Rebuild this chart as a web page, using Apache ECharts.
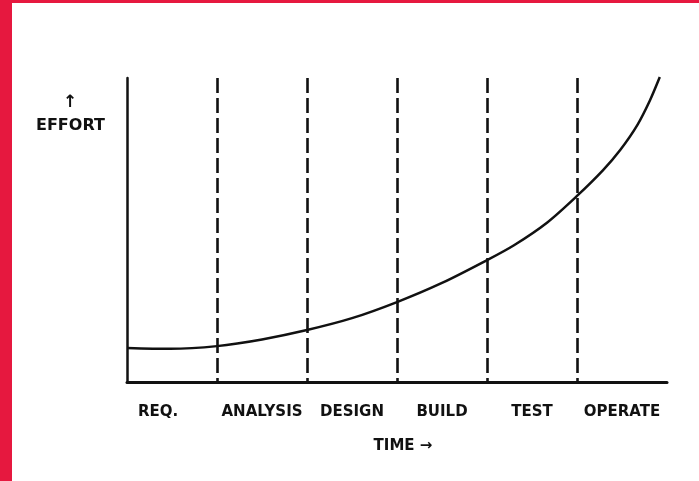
<!DOCTYPE html>
<html>
<head>
<meta charset="utf-8">
<script src="https://cdn.jsdelivr.net/npm/echarts@6/dist/echarts.min.js"></script>
<style>
html,body{margin:0;padding:0;background:#fff;}
#c{position:absolute;left:0;top:0;width:699px;height:481px;}
.bar{position:absolute;background:#E6183F;}
</style>
</head>
<body>
<div id="c"></div>
<div class="bar" style="left:0;top:0;width:699px;height:3px;"></div>
<div class="bar" style="left:0;top:0;width:12px;height:481px;"></div>
<script>
// Phases along the time axis
const phases = ['REQ.', 'ANALYSIS', 'DESIGN', 'BUILD', 'TEST', 'OPERATE'];
// Effort curve: time position (in phases) and effort value (0-100)
const curveTime   = [0, 0.48, 1.0, 1.5, 2.0, 2.5, 3.0, 3.5, 4.0, 4.3, 4.67, 5.0, 5.29, 5.48, 5.67, 5.81, 5.92];
const curveEffort = [11.2, 10.9, 11.8, 14, 17.1, 21, 26.3, 32.6, 40.1, 45.0, 52.5, 61.2, 69.7, 76.3, 84.5, 92.6, 100.3];

const chart = echarts.init(document.getElementById('c'));
const font = 'DejaVu Sans';
chart.setOption({
  animation: false,
  backgroundColor: '#fff',
  grid: { left: 127, right: 32, top: 78, bottom: 99 },
  xAxis: [
    {
      type: 'value', min: 0, max: phases.length, interval: 1,
      axisLine: { show: true, lineStyle: { color: '#111', width: 3 } },
      axisTick: { show: false }, axisLabel: { show: false },
      splitLine: { show: true, showMinLine: false, showMaxLine: false,
        lineStyle: { color: '#111', width: 2.6, type: [15, 5] } }
    },
    {
      type: 'category', data: phases, boundaryGap: true, position: 'bottom',
      axisLine: { show: false }, axisTick: { show: false }, splitLine: { show: false },
      axisLabel: {
        interval: 0, hideOverlap: false,
        margin: 23, color: '#111', fontFamily: font, fontWeight: 'bold', fontSize: 15,
        formatter: function (v) { return v === 'REQ.' ? '{r|' + v + '}' : v; },
        rich: { r: { padding: [0, 28, 0, 0], color: '#111', fontFamily: font, fontWeight: 'bold', fontSize: 15 } }
      },
      name: 'TIME →', nameLocation: 'middle', nameGap: 57,
      nameTextStyle: { color: '#111', fontFamily: font, fontWeight: 'bold', fontSize: 15, padding: [0, 0, 0, 12] }
    }
  ],
  yAxis: {
    type: 'value', min: 0, max: 100,
    axisLine: { show: true, lineStyle: { color: '#111', width: 2.5 } },
    axisTick: { show: false }, axisLabel: { show: false }, splitLine: { show: false }
  },
  graphic: [
    { type: 'text', left: 63, top: 94, style: { text: '↑', fill: '#111', font: 'bold 17px "DejaVu Sans"' } },
    { type: 'text', left: 36, top: 118, style: { text: 'EFFORT', fill: '#111', font: 'bold 16px "DejaVu Sans"' } }
  ],
  series: [{
    type: 'line', xAxisIndex: 0, yAxisIndex: 0,
    data: curveTime.map((t, i) => [t, curveEffort[i]]),
    smooth: 0.3, showSymbol: false, clip: false,
    lineStyle: { color: '#111', width: 2.5 }
  }]
});
</script>
</body>
</html>
